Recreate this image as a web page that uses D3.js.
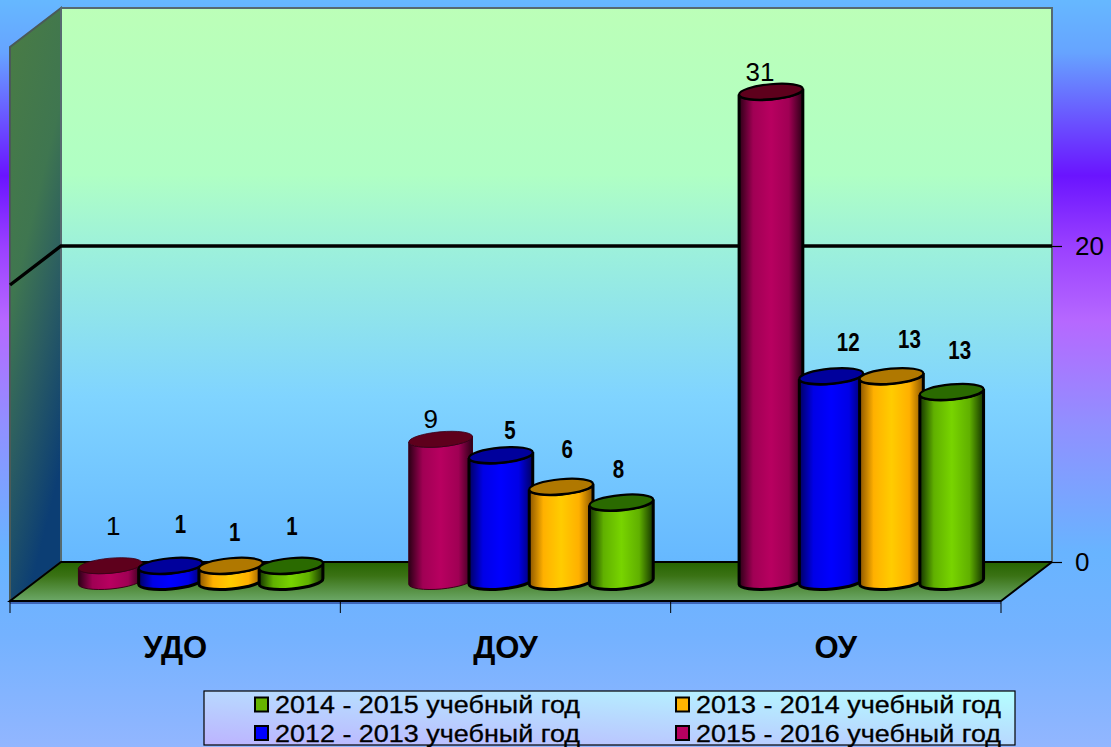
<!DOCTYPE html>
<html><head><meta charset="utf-8">
<script src="https://cdn.jsdelivr.net/npm/d3@7"></script>
<style>html,body{margin:0;padding:0;overflow:hidden}svg{display:block}text{font-family:"Liberation Sans",Arial,sans-serif;fill:#000}</style>
</head><body><svg id="c" width="1111" height="747"></svg>
<script>
const categories = ["УДО","ДОУ","ОУ"];
const seriesNames = ["2015 - 2016 учебный год","2012 - 2013 учебный год","2013 - 2014 учебный год","2014 - 2015 учебный год"];
// Heights the bars are drawn at in the reference
const heights2015 = [1,9,31];
const heights2012 = [1,8,13];
const heights2013 = [1,6,13];
const heights2014 = [1,5,12];
// Labels printed over the bars in the reference (they differ from the heights)
const labels2015 = [1,9,31];
const labels2012 = [1,5,12];
const labels2013 = [1,6,13];
const labels2014 = [1,8,13];
const valueTicks = [0,20];
const legendOrder = [3,2,1,0];

const heights=[heights2015,heights2012,heights2013,heights2014];
const labels=[labels2015,labels2012,labels2013,labels2014];
const svg=d3.select("#c"), defs=svg.append("defs");
const W=1111,H=747;
const back={l:61,r:1052,t:8,b:562}, depth={x:-51,y:39};
const front={l:back.l+depth.x,r:back.r+depth.x,b:back.b+depth.y};
const y=d3.scaleLinear().domain([0,20]).range([back.b,246]);
const x0=d3.scaleBand().domain(d3.range(3)).range([front.l,front.r]);
const catScale=d3.scaleBand().domain(categories).range([front.l,front.r]);
const x1=d3.scaleBand().domain(d3.range(4)).range([-120.5,120.5]);

function lin(id,x1_,y1_,x2_,y2_,stops){
  const g=defs.append("linearGradient").attr("id",id).attr("x1",x1_).attr("y1",y1_).attr("x2",x2_).attr("y2",y2_);
  stops.forEach(s=>g.append("stop").attr("offset",s[0]).attr("stop-color",s[1]));
}
lin("page",0,0,0,1,[[0,"#66b8ff"],[.07,"#66a4ff"],[.165,"#6a50ff"],[.235,"#6a14ff"],[.33,"#9a40ff"],[.43,"#b668ff"],[.57,"#9090ff"],[.74,"#68b4ff"],[.85,"#74b2ff"],[1,"#92b6ff"]]);
lin("backW",0,0,0,1,[[0,"#bcffb8"],[.3,"#b0ffc4"],[.44,"#9cf0dc"],[.7,"#80d4ff"],[1,"#66b8ff"]]);
lin("leftW",0,0,.35,1,[[0,"#4a7c44"],[.45,"#3f7650"],[.7,"#2a5c62"],[1,"#0c3e74"]]);
lin("floor",0,0,0,1,[[0,"#266400"],[.35,"#3a7214"],[1,"#6ca868"]]);
lin("legend",0,1,1,0,[[0,"#bcb4ff"],[.5,"#b8d8ff"],[1,"#b4ffff"]]);
const palette=[
 {edge:"#2c0016",shade:"#a00054",mid:"#b80060",top:"#5e001c"},
 {edge:"#000060",shade:"#0000e6",mid:"#0000ff",top:"#00009c"},
 {edge:"#8a5400",shade:"#ffb000",mid:"#ffcc00",top:"#b07800"},
 {edge:"#143400",shade:"#60b000",mid:"#78d400",top:"#2a6a00"}];
palette.forEach((p,i)=>lin("cyl"+i,0,0,1,0,[[0,p.edge],[.22,p.shade],[.5,p.mid],[.78,p.shade],[1,p.edge]]));
const legendColors=["#b80060","#0000ff","#ffb400","#66b400"];

svg.append("rect").attr("width",W).attr("height",H).attr("fill","url(#page)");
// walls
svg.append("polygon").attr("points",[[back.l,back.t],[front.l,back.t+depth.y],[front.l,front.b],[back.l,back.b]].join(" "))
  .attr("fill","url(#leftW)").attr("stroke","#4a5a58").attr("stroke-width",2);
svg.append("rect").attr("x",back.l).attr("y",back.t).attr("width",back.r-back.l).attr("height",back.b-back.t)
  .attr("fill","url(#backW)").attr("stroke","#566a70").attr("stroke-width",2);
// floor
svg.append("polygon").attr("points",[[back.l,back.b],[back.r,back.b],[front.r,front.b],[front.l,front.b]].join(" ")).attr("fill","url(#floor)");
svg.append("line").attr("x1",front.l).attr("x2",front.r).attr("y1",front.b+2).attr("y2",front.b+2).attr("stroke","#3d66b8").attr("stroke-width",2);
svg.append("path").attr("d",`M${back.r},${back.b}H${back.l}L${front.l},${front.b}H${front.r}L${back.r},${back.b}`).attr("fill","none").attr("stroke","#000").attr("stroke-width",2);
// gridline at 20
svg.append("path").attr("d",`M${front.l},${y(20)+depth.y}L${back.l},${y(20)}H${back.r}`).attr("fill","none").attr("stroke","#000").attr("stroke-width",3.4);

// value axis
const ay=svg.append("g").attr("transform",`translate(${back.r},0)`).call(d3.axisRight(y).tickValues(valueTicks).tickSize(10).tickPadding(13));
ay.select(".domain").remove();
ay.selectAll("line").attr("stroke","#000").attr("stroke-width",1.2);
ay.selectAll("text").attr("font-size",26).attr("font-family",'"Liberation Sans"');

// category axis
svg.selectAll(".ct").data(d3.range(4)).join("line").attr("class","ct")
  .attr("x1",i=>front.l+i*x0.bandwidth()).attr("x2",i=>front.l+i*x0.bandwidth()).attr("y1",front.b+1).attr("y2",front.b+12).attr("stroke","#000");
const ax=svg.append("g").attr("transform",`translate(0,${front.b})`).call(d3.axisBottom(catScale).tickSize(0).tickPadding(35));
ax.select(".domain").remove();
ax.selectAll("text").attr("font-size",31).attr("font-weight","bold").attr("font-family",'"Liberation Sans"').attr("dy","0.72em");

// cylinders
const rx=32, ry=7.5, rot=-5.2, a=rot*Math.PI/180;
const ex=rx*Math.cos(a), ey=rx*Math.sin(a);
const labelOffset=[
 [[3,-40],[10,-41],[4,-33],[1,-39]],
 [[-10,-20],[9,-25],[6,-37],[-3,-33]],
 [[-11,-20],[17,-34],[18,-37],[8,-42]]];
d3.range(4).forEach(s=>{
  d3.range(3).forEach(c=>{
    const cx=x0(c)+x0.bandwidth()/2-depth.x/2+x1(s)+x1.bandwidth()/2;
    const by=y(0)+depth.y/2, ty=y(heights[s][c])+depth.y/2;
    const thin=s===0&&c<2;
    const g=svg.append("g");
    const stroke=thin?"#3a0018":"#000";
    g.append("path").attr("d",`M${cx-ex},${ty-ey}L${cx-ex},${by-ey}A${rx},${ry} ${rot} 0 0 ${cx+ex},${by+ey}L${cx+ex},${ty+ey}A${rx},${ry} ${rot} 0 1 ${cx-ex},${ty-ey}Z`)
      .attr("fill",`url(#cyl${s})`).attr("stroke",stroke).attr("stroke-width",thin?1:3);
    g.append("ellipse").attr("cx",cx).attr("cy",ty).attr("rx",rx).attr("ry",ry)
      .attr("transform",`rotate(${rot} ${cx} ${ty})`).attr("fill",palette[s].top).attr("stroke",stroke).attr("stroke-width",thin?.8:2.2);
  });
});
// data labels (above everything)
d3.range(4).forEach(s=>d3.range(3).forEach(c=>{
  const cx=x0(c)+x0.bandwidth()/2-depth.x/2+x1(s)+x1.bandwidth()/2;
  const ty=y(heights[s][c])+depth.y/2;
  const o=labelOffset[c][s];
  const t=svg.append("text").attr("text-anchor","middle").attr("dominant-baseline","central").text(labels[s][c]);
  if(s===0) t.attr("x",cx+o[0]).attr("y",ty+o[1]).attr("font-size",26);
  else t.attr("transform",`translate(${cx+o[0]},${ty+o[1]}) scale(.82,1)`).attr("font-size",25).attr("font-weight","bold");
}));

// legend
svg.append("rect").attr("x",204).attr("y",691).attr("width",811).attr("height",54).attr("fill","url(#legend)").attr("stroke","#000").attr("stroke-width",1.2);
const lx=[255,676], ly=[704.5,733];
legendOrder.forEach((s,i)=>{
  const col=i%2,row=Math.floor(i/2);
  svg.append("rect").attr("x",lx[col]).attr("y",ly[row]-7).attr("width",13).attr("height",14).attr("fill",legendColors[s]).attr("stroke","#000").attr("stroke-width",2);
  svg.append("text").attr("x",lx[col]+20).attr("y",ly[row]+8.5).attr("font-size",24).attr("textLength",305).attr("lengthAdjust","spacingAndGlyphs").attr("stroke","#000").attr("stroke-width",.3).text(seriesNames[s]);
});
</script></body></html>
